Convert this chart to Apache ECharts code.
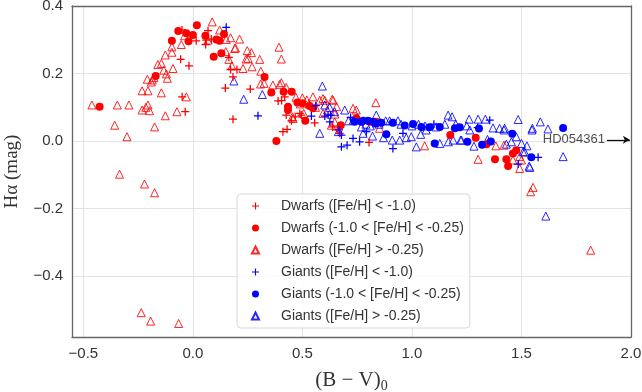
<!DOCTYPE html>
<html><head><meta charset="utf-8">
<script src="https://cdn.jsdelivr.net/npm/echarts@6/dist/echarts.min.js"></script>
<style>html,body{margin:0;padding:0;background:#fff}#c{width:642px;height:392px}</style>
</head><body><div id="c"></div>
<script>
const seriesNames = [
  'Dwarfs ([Fe/H] < -1.0)',
  'Dwarfs (-1.0 < [Fe/H] < -0.25)',
  'Dwarfs ([Fe/H] > -0.25)',
  'Giants ([Fe/H] < -1.0)',
  'Giants (-1.0 < [Fe/H] < -0.25)',
  'Giants ([Fe/H] > -0.25)'
];
const xTicks = [-0.5, 0.0, 0.5, 1.0, 1.5, 2.0];
const yTicks = [-0.4, -0.2, 0.0, 0.2, 0.4];

const dwarfsPoor = [[-0.05,0.329],[0.015,0.297],[0.069,0.327],[0.058,0.286],[0.084,0.302],[-0.056,0.242],[-0.018,0.223],[-0.049,0.131],[-0.035,0.087],[0.164,0.248],[0.172,0.212],[0.201,0.212],[0.183,0.19],[0.148,0.157],[0.262,0.154],[0.183,0.065],[0.389,0.119],[0.419,0.131],[0.426,0.077],[0.411,0.028],[0.43,0.035],[0.467,0.072],[0.495,0.077],[0.556,0.054],[0.488,0.082],[0.638,0.042],[0.659,0.033],[0.804,-0.004],[0.67,0.023],[0.061,0.299],[0.405,0.12],[0.45,0.06]];
const dwarfsMid = [[-0.426,0.102],[-0.17,0.193],[-0.096,0.297],[-0.067,0.326],[-0.03,0.319],[-0.02,0.296],[0.0,0.314],[0.018,0.343],[0.057,0.312],[0.095,0.25],[0.107,0.301],[0.122,0.297],[0.13,0.26],[0.142,0.317],[0.327,0.19],[0.358,0.144],[0.414,0.146],[0.451,0.146],[0.381,0.0],[0.434,0.092],[0.434,0.102],[0.477,0.114],[0.5,0.112],[0.533,0.104],[0.548,0.097],[0.513,0.06],[0.675,0.047],[0.746,0.068],[0.807,0.057],[0.835,0.057],[1.175,0.018],[1.291,0.01],[1.34,-0.009],[1.461,-0.037],[1.476,-0.027],[1.379,-0.054],[1.431,-0.054],[1.439,-0.074]];
const dwarfsRich = [[-0.461,0.107],[-0.345,0.107],[-0.292,0.107],[-0.357,0.047],[-0.301,0.013],[-0.335,-0.098],[-0.221,-0.127],[-0.175,-0.153],[-0.232,0.092],[-0.205,0.107],[-0.198,0.09],[-0.215,0.1],[-0.232,0.149],[-0.205,0.149],[-0.144,0.143],[-0.175,0.042],[-0.126,0.075],[-0.073,0.087],[-0.03,0.131],[-0.208,0.183],[-0.185,0.181],[-0.178,0.188],[-0.19,0.175],[-0.16,0.227],[-0.144,0.23],[-0.133,0.21],[-0.121,0.199],[-0.117,0.186],[-0.126,0.255],[-0.091,0.215],[-0.096,0.263],[-0.096,0.279],[-0.053,0.286],[-0.038,0.312],[0.088,0.353],[0.122,0.329],[0.069,0.299],[0.152,0.301],[0.172,0.306],[0.213,0.302],[0.15,0.265],[0.194,0.276],[0.248,0.268],[0.267,0.262],[0.243,0.243],[0.305,0.242],[0.178,0.223],[0.229,0.215],[0.27,0.22],[0.31,0.207],[0.393,0.278],[0.404,0.243],[0.325,0.171],[0.365,0.166],[0.404,0.173],[0.426,0.159],[0.309,0.169],[0.396,0.168],[0.457,0.067],[0.506,0.082],[0.548,0.131],[0.579,0.121],[0.602,0.121],[0.64,0.121],[0.656,0.102],[0.835,0.114],[0.746,0.092],[0.632,0.047],[0.614,0.092],[0.594,0.082],[0.647,0.057],[0.454,0.072],[1.058,-0.014],[1.383,-0.014],[1.42,-0.012],[1.302,-0.054],[1.492,-0.081],[1.542,-0.15],[1.553,-0.137],[1.492,-0.046],[1.5,-0.056],[1.461,-0.056],[1.816,-0.323],[-0.236,-0.508],[-0.193,-0.533],[-0.065,-0.54],[0.164,0.242],[0.252,0.245],[0.191,0.274],[0.47,0.13],[0.5,0.128],[0.52,0.122],[0.53,0.11],[0.56,0.1],[0.49,0.11],[0.594,0.126],[0.636,0.124],[0.648,0.08],[0.731,0.097],[0.852,0.038]];
const giantsPoor = [[0.152,0.337],[0.297,0.075],[0.541,0.074],[0.561,0.105],[0.602,0.074],[0.617,0.077],[0.629,0.077],[0.625,0.057],[0.667,0.033],[0.678,0.018],[0.678,-0.017],[0.704,-0.012],[0.731,0.008],[0.761,-0.002],[0.792,0.028],[0.822,0.052],[0.913,-0.022],[0.959,0.023],[1.355,0.062],[1.485,-0.068],[1.576,-0.048],[1.3,0.04],[0.72,0.07],[1.1,0.05]];
const giantsMid = [[0.738,0.057],[0.769,0.057],[0.777,0.06],[0.822,0.057],[0.835,0.052],[0.883,0.02],[0.913,0.054],[0.967,0.046],[1.005,0.051],[1.043,0.042],[1.08,0.041],[1.104,-0.007],[1.127,0.042],[1.196,0.038],[1.218,0.041],[1.253,-0.002],[1.306,0.037],[1.32,-0.011],[1.36,-0.001],[1.458,0.022],[1.545,-0.048],[1.69,0.039],[0.8,0.06],[0.86,0.054]];
const giantsRich = [[0.187,0.178],[0.232,0.124],[0.317,0.138],[0.579,0.023],[0.591,0.163],[0.602,0.107],[0.624,0.1],[0.647,0.087],[0.664,0.028],[0.693,0.092],[0.732,0.062],[0.769,0.042],[0.777,0.023],[0.837,0.077],[0.898,0.06],[0.936,0.06],[0.91,0.003],[0.944,0.003],[0.974,0.01],[0.997,0.013],[1.02,-0.017],[1.065,0.033],[1.111,0.042],[1.127,-0.007],[1.165,0.077],[1.183,0.072],[1.188,0.003],[1.226,0.003],[1.261,0.065],[1.302,0.065],[1.335,0.065],[1.37,0.039],[1.4,0.038],[1.423,0.038],[1.485,0.064],[1.476,0.013],[1.454,-0.002],[1.5,-0.007],[1.525,-0.014],[1.507,-0.032],[1.535,-0.074],[1.55,0.038],[1.586,0.057],[1.621,0.036],[1.69,-0.046],[1.283,-0.015],[1.431,-0.009],[1.611,-0.222],[1.166,-0.002],[1.222,0.003],[1.264,0.033],[1.345,0.005],[1.42,0.033],[1.548,0.033],[1.515,-0.032],[1.538,-0.078],[0.71,0.06],[0.75,0.07],[0.79,0.05],[0.81,0.045],[0.85,0.05],[0.88,0.06],[0.95,0.05],[1.0,0.045],[1.03,0.05],[1.06,0.045],[1.15,0.05],[1.2,0.05],[1.25,0.045],[0.82,0.015],[0.87,0.01],[1.04,0.02]];

const annotText = 'HD054361';
const annotStart = [1.89, 0.004];
const annotEnd = [1.995, 0.004];

const RED = '#ff0000', BLUE = '#0000ff';
const PLUS = 'path://M0,4.2H4.2V0H5.8V4.2H10V5.8H5.8V10H4.2V5.8H0Z';
function fmt(v){ return (v<0?'\u2212':'') + Math.abs(v).toFixed(1); }

function mk(name, data, symbol, color, open, size){
  return {
    name, type:'scatter', data, symbol, symbolSize:size, symbolKeepAspect:true,
    itemStyle: open ? {color:'rgba(255,255,255,0)', borderColor:color, borderWidth:1, opacity:0.85}
                    : {color:color, opacity:1},
    emphasis:{disabled:true}, z: open?2:3
  };
}
const frameLine = {show:true, onZero:false, lineStyle:{color:'#666', width:1.3}};
const XMIN = -0.552, XMAX = 2.0, YMIN = -0.58, YMAX = 0.4;

const chart = echarts.init(document.getElementById('c'), null, {renderer:'canvas'});
chart.setOption({
  animation:false,
  backgroundColor:'#fff',
  grid:{left:72, right:11, top:6, bottom:55, show:false, containLabel:false, outerBoundsMode:'none'},
  xAxis:[{type:'value', min:XMIN, max:XMAX, position:'bottom',
    name:'(B \u2212 V){s|0}', nameLocation:'middle', nameGap:30,
    nameTextStyle:{fontFamily:'Liberation Serif', fontSize:21, color:'#333', rich:{s:{fontFamily:'Liberation Serif', fontSize:14, color:'#333', padding:[12,0,0,0]}}},
    axisLine:frameLine,
    axisLabel:{fontFamily:'Liberation Sans', fontSize:15, color:'#333', margin:9,
      customValues: xTicks, formatter:fmt},
    splitLine:{show:true, lineStyle:{color:'#e3e3e3', width:1}},
    axisTick:{show:false, customValues: xTicks}
  },{type:'value', min:XMIN, max:XMAX, position:'top', axisLine:frameLine,
    axisLabel:{show:false}, axisTick:{show:false}, splitLine:{show:false}}],
  yAxis:[{type:'value', min:YMIN, max:YMAX, position:'left',
    name:'H\u03b1 (mag)', nameLocation:'middle', nameGap:50,
    nameTextStyle:{fontFamily:'Liberation Serif', fontSize:19, color:'#333'},
    axisLine:frameLine,
    axisLabel:{fontFamily:'Liberation Sans', fontSize:15, color:'#333', margin:9,
      customValues: yTicks, formatter:fmt},
    splitLine:{show:true, lineStyle:{color:'#e3e3e3', width:1}},
    axisTick:{show:false, customValues: yTicks}
  },{type:'value', min:YMIN, max:YMAX, position:'right', axisLine:frameLine,
    axisLabel:{show:false}, axisTick:{show:false}, splitLine:{show:false}}],
  legend:{
    orient:'vertical', left:237, top:194,
    backgroundColor:'rgba(255,255,255,0.85)', borderColor:'#d8d8d8', borderWidth:1, borderRadius:4,
    padding:[5,6,5,14], itemWidth:7, itemHeight:7, itemGap:8,
    textStyle:{fontFamily:'Liberation Sans', fontSize:14, color:'#333', padding:[0,0,0,17]},
    data: seriesNames
  },
  series:[
    mk(seriesNames[0], dwarfsPoor, PLUS, RED, false, 8),
    mk(seriesNames[1], dwarfsMid, 'circle', RED, false, 8),
    mk(seriesNames[2], dwarfsRich, 'triangle', RED, true, 8),
    mk(seriesNames[3], giantsPoor, PLUS, BLUE, false, 8),
    mk(seriesNames[4], giantsMid, 'circle', BLUE, false, 8),
    mk(seriesNames[5], giantsRich, 'triangle', BLUE, true, 8),
    {type:'scatter', name:'annot', data:[annotStart], symbolSize:0, silent:true,
      label:{show:true, position:'left', distance:2, formatter:annotText,
        fontFamily:'Liberation Sans', fontSize:13, color:'#222'},
      markLine:{silent:true, symbol:['none','arrow'], symbolSize:[6,7],
        lineStyle:{color:'#111', width:1.3, type:'solid'}, label:{show:false},
        data:[[{coord:annotStart},{coord:annotEnd}]]}
    }
  ]
});
</script></body></html>
